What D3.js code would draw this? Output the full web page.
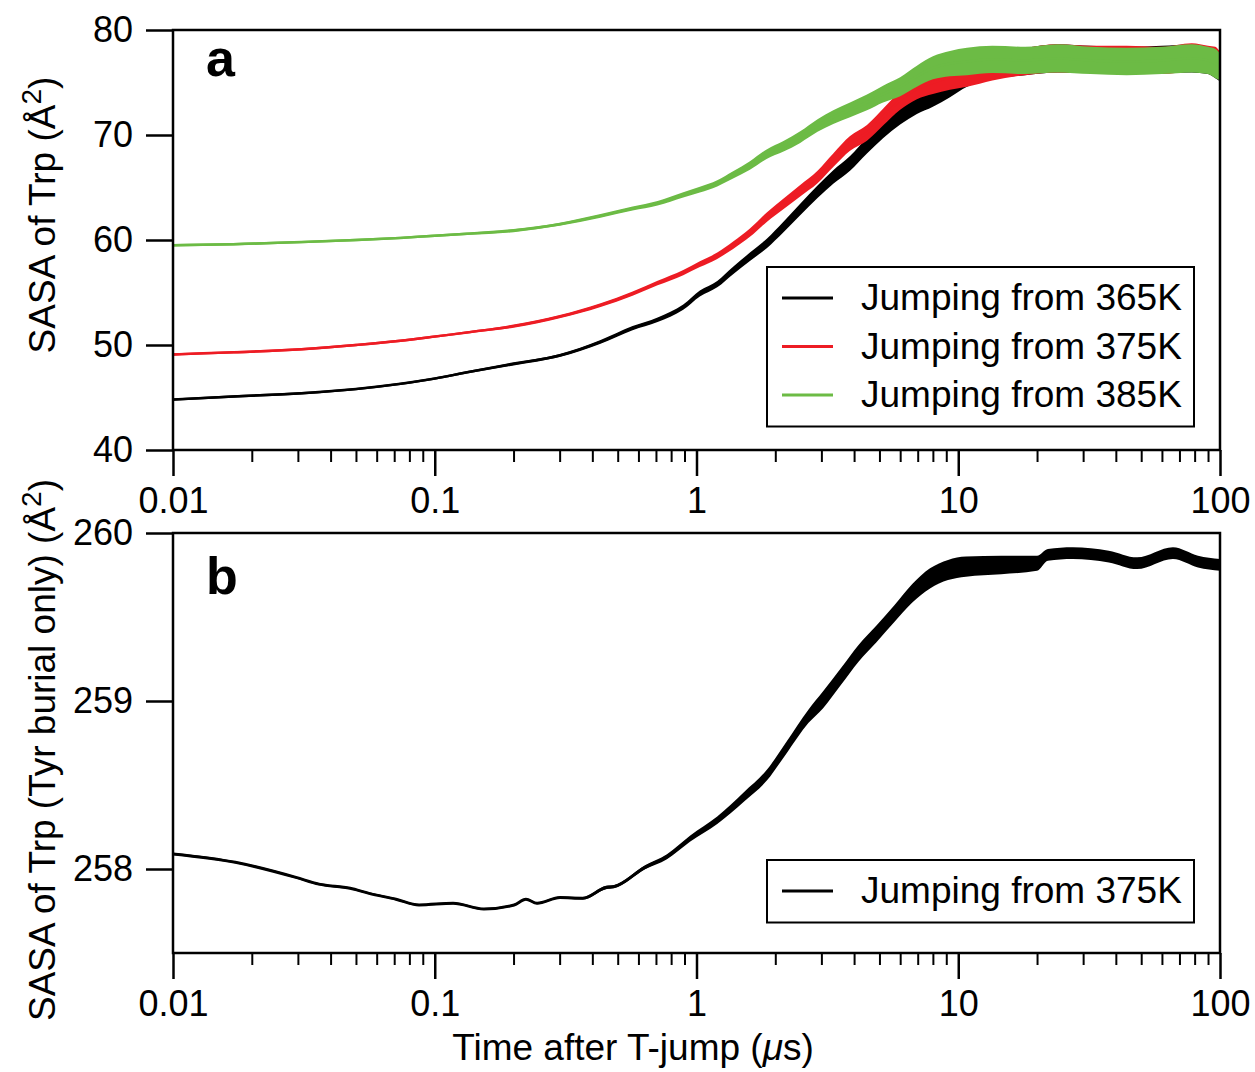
<!DOCTYPE html>
<html>
<head>
<meta charset="utf-8">
<script src="https://cdn.jsdelivr.net/npm/d3@7"></script>
<style>
  body { margin: 0; background: #fff; }
  svg { display: block; }
</style>
</head>
<body>
<div class="canvas"></div>
<script>
// panel a: SASA of Trp after the jump, three start temperatures
const timeA = [0.01, 0.017, 0.031, 0.05, 0.074, 0.1, 0.133, 0.2, 0.3, 0.43, 0.57, 0.71, 0.89, 1.03, 1.2, 1.38, 1.6, 1.86, 2.14, 2.49, 2.9, 3.33, 3.86, 4.48, 5.16, 6.0, 6.95, 8.0, 9.3, 10.8, 13.5, 18, 24, 32, 44, 60, 78, 90, 96, 100]
const from365 = [44.8, 45.1, 45.4, 45.8, 46.3, 46.8, 47.4, 48.2, 49.0, 50.3, 51.6, 52.4, 53.6, 54.9, 55.8, 57.1, 58.4, 59.7, 61.2, 62.9, 64.6, 66.0, 67.3, 69.0, 70.5, 71.9, 73.0, 73.8, 74.8, 75.9, 76.6, 77.0, 77.3, 77.2, 77.1, 77.2, 77.3, 77.1, 76.8, 76.4]
const from375 = [49.1, 49.3, 49.6, 50.0, 50.4, 50.8, 51.2, 51.8, 52.7, 53.8, 54.9, 55.9, 56.9, 57.7, 58.5, 59.5, 60.7, 62.2, 63.4, 64.7, 66.0, 67.6, 69.2, 70.2, 71.7, 73.3, 74.4, 75.0, 75.5, 75.9, 76.5, 77.0, 77.3, 77.2, 77.2, 77.1, 77.4, 77.2, 77.0, 76.6]
const from385 = [59.5, 59.6, 59.8, 60.0, 60.2, 60.4, 60.6, 60.9, 61.5, 62.3, 63.0, 63.5, 64.3, 64.8, 65.4, 66.2, 67.1, 68.2, 68.9, 69.8, 70.9, 71.7, 72.4, 73.1, 73.9, 74.6, 75.6, 76.4, 76.8, 77.0, 77.2, 77.1, 77.3, 77.1, 77.0, 77.1, 77.3, 77.1, 76.8, 76.5]
// half width of the fluctuation band
const spreadA = [0.12, 0.12, 0.12, 0.12, 0.12, 0.12, 0.12, 0.15, 0.15, 0.18, 0.2, 0.22, 0.25, 0.28, 0.3, 0.35, 0.4, 0.45, 0.5, 0.55, 0.6, 0.65, 0.7, 0.75, 0.8, 0.9, 1.0, 1.1, 1.2, 1.3, 1.3, 1.3, 1.35, 1.3, 1.3, 1.3, 1.35, 1.3, 1.4, 1.3]
const seriesNames = ['Jumping from 365K', 'Jumping from 375K', 'Jumping from 385K']
const seriesColors = ['#000000', '#ed1c24', '#6cbb45']

// panel b: Tyr burial only, jump from 375K
const timeB = [0.01, 0.0173, 0.0295, 0.0361, 0.0475, 0.0561, 0.0711, 0.0871, 0.1175, 0.154, 0.201, 0.223, 0.246, 0.301, 0.368, 0.451, 0.484, 0.636, 0.771, 0.944, 1.2, 1.52, 1.86, 2.2, 2.68, 3.04, 3.56, 4.16, 4.87, 5.7, 6.66, 7.8, 9.14, 10.7, 14.6, 20, 22, 27.4, 37.6, 48.2, 66.1, 82.4, 100]
const tyrOnly = [258.09, 258.04, 257.95, 257.91, 257.885, 257.855, 257.82, 257.786, 257.796, 257.762, 257.786, 257.82, 257.796, 257.83, 257.826, 257.89, 257.895, 258.01, 258.073, 258.18, 258.29, 258.43, 258.56, 258.72, 258.91, 259.006, 259.145, 259.284, 259.40, 259.52, 259.64, 259.73, 259.78, 259.80, 259.81, 259.82, 259.87, 259.88, 259.86, 259.82, 259.88, 259.83, 259.81]
const spreadB = [0.006, 0.006, 0.006, 0.006, 0.006, 0.006, 0.006, 0.006, 0.006, 0.006, 0.006, 0.006, 0.006, 0.006, 0.008, 0.01, 0.01, 0.012, 0.015, 0.018, 0.022, 0.028, 0.032, 0.035, 0.04, 0.05, 0.05, 0.05, 0.05, 0.05, 0.055, 0.06, 0.06, 0.06, 0.055, 0.045, 0.035, 0.035, 0.035, 0.035, 0.035, 0.035, 0.035]

const xTicks = [0.01, 0.1, 1, 10, 100]
const xMinor = [2, 3, 4, 5, 6, 7, 8, 9].flatMap(m => [0.01, 0.1, 1, 10].map(d => m * d))
const yTicksA = [40, 50, 60, 70, 80]
const yTicksB = [258, 259, 260]

const font = '"Liberation Sans", Arial, Helvetica, sans-serif'
const dims = { width: 1255, height: 1072 }
const left = 173, right = 1220

const svg = d3.select('.canvas')
  .append('svg')
  .attr('width', dims.width)
  .attr('height', dims.height)
  .attr('font-family', font)

const x = d3.scaleLog().domain([0.01, 100]).range([left, right])
const yA = d3.scaleLinear().domain([40, 80]).range([450, 30])
const yB = d3.scaleLinear().domain([257.5, 260]).range([953, 533])

svg.append('defs').selectAll('clipPath')
  .data([['clipA', yA], ['clipB', yB]])
  .enter().append('clipPath')
    .attr('id', d => d[0])
  .append('rect')
    .attr('x', left)
    .attr('y', d => d[1].range()[1])
    .attr('width', right - left)
    .attr('height', d => d[1].range()[0] - d[1].range()[1])

const drawSeries = (y, times, values, spread, color, clip, width) => {
  const pts = times.map((t, i) => ({ t, v: values[i], s: spread[i] }))
  const g = svg.append('g').attr('clip-path', `url(#${clip})`)
  g.append('path')
    .attr('fill', color)
    .attr('d', d3.area()
      .x(d => x(d.t))
      .y0(d => y(d.v - d.s))
      .y1(d => y(d.v + d.s))
      .curve(d3.curveMonotoneX)(pts))
  g.append('path')
    .attr('fill', 'none')
    .attr('stroke', color)
    .attr('stroke-width', width)
    .attr('stroke-linejoin', 'round')
    .attr('d', d3.line()
      .x(d => x(d.t))
      .y(d => y(d.v))
      .curve(d3.curveMonotoneX)(pts))
}

const drawAxes = (y, yTicks) => {
  const [bottom, top] = y.range()
  // frame
  svg.append('rect')
    .attr('x', left).attr('y', top)
    .attr('width', right - left).attr('height', bottom - top)
    .attr('fill', 'none').attr('stroke', '#000').attr('stroke-width', 2.5)

  // minor x ticks
  svg.append('g')
    .attr('transform', `translate(0, ${bottom})`)
    .call(d3.axisBottom(x).tickValues(xMinor).tickSize(12).tickFormat(''))
    .call(g => g.select('.domain').remove())
    .call(g => g.selectAll('line').attr('stroke-width', 2))

  // major x ticks
  svg.append('g')
    .attr('transform', `translate(0, ${bottom})`)
    .call(d3.axisBottom(x).tickValues(xTicks).tickSize(26).tickPadding(11).tickFormat(d3.format('~g')))
    .call(g => g.select('.domain').remove())
    .call(g => g.selectAll('line').attr('stroke-width', 2.5))
    .call(g => g.selectAll('text').attr('font-size', 36).attr('font-family', font).attr('fill', '#000'))

  svg.append('g')
    .attr('transform', `translate(${left}, 0)`)
    .call(d3.axisLeft(y).tickValues(yTicks).tickSize(27).tickPadding(13).tickFormat(d3.format('d')))
    .call(g => g.select('.domain').remove())
    .call(g => g.selectAll('line').attr('stroke-width', 2.5))
    .call(g => g.selectAll('text').attr('font-size', 36).attr('font-family', font).attr('fill', '#000'))
}

const drawLegend = (top, rows, colors) => {
  svg.append('rect')
    .attr('x', 767).attr('y', top)
    .attr('width', 427).attr('height', 14 + rows.length * 48.5)
    .attr('fill', '#fff').attr('stroke', '#000').attr('stroke-width', 2)
  const items = svg.selectAll(null)
    .data(rows)
    .enter().append('g')
      .attr('transform', (d, i) => `translate(0, ${top + 31 + i * 48.5})`)
  items.append('line')
    .attr('x1', 782).attr('x2', 833)
    .attr('stroke', (d, i) => colors[i])
    .attr('stroke-width', 3)
  items.append('text')
    .attr('x', 861).attr('y', 12)
    .attr('font-size', 37)
    .text(d => d)
}

const yTitle = (cx, cy, label) => {
  const t = svg.append('text')
    .attr('transform', `translate(${cx}, ${cy}) rotate(-90)`)
    .attr('text-anchor', 'middle')
    .attr('font-size', 37)
  t.append('tspan').text(label)
  t.append('tspan').attr('font-size', 28).attr('dy', -14).text('2')
  t.append('tspan').attr('dy', 14).text(')')
}

// panel a
const seriesA = [from365, from375, from385]
seriesA.forEach((vals, i) => drawSeries(yA, timeA, vals, spreadA, seriesColors[i], 'clipA', 2.4))
drawAxes(yA, yTicksA)
drawLegend(267, seriesNames, seriesColors)
yTitle(55, 215, 'SASA of Trp (Å')
svg.append('text')
  .attr('x', 206).attr('y', 76)
  .attr('font-size', 52).attr('font-weight', 'bold')
  .text('a')

// panel b
drawSeries(yB, timeB, tyrOnly, spreadB, '#000000', 'clipB', 3)
drawAxes(yB, yTicksB)
drawLegend(860, [seriesNames[1]], ['#000000'])
yTitle(55, 750, 'SASA of Trp (Tyr burial only) (Å')
svg.append('text')
  .attr('x', 206).attr('y', 594)
  .attr('font-size', 52).attr('font-weight', 'bold')
  .text('b')

// x axis title
const xt = svg.append('text')
  .attr('x', 633).attr('y', 1060)
  .attr('text-anchor', 'middle')
  .attr('font-size', 37)
xt.append('tspan').text('Time after T-jump (')
xt.append('tspan').attr('font-style', 'italic').text('μ')
xt.append('tspan').text('s)')
</script>
</body>
</html>
